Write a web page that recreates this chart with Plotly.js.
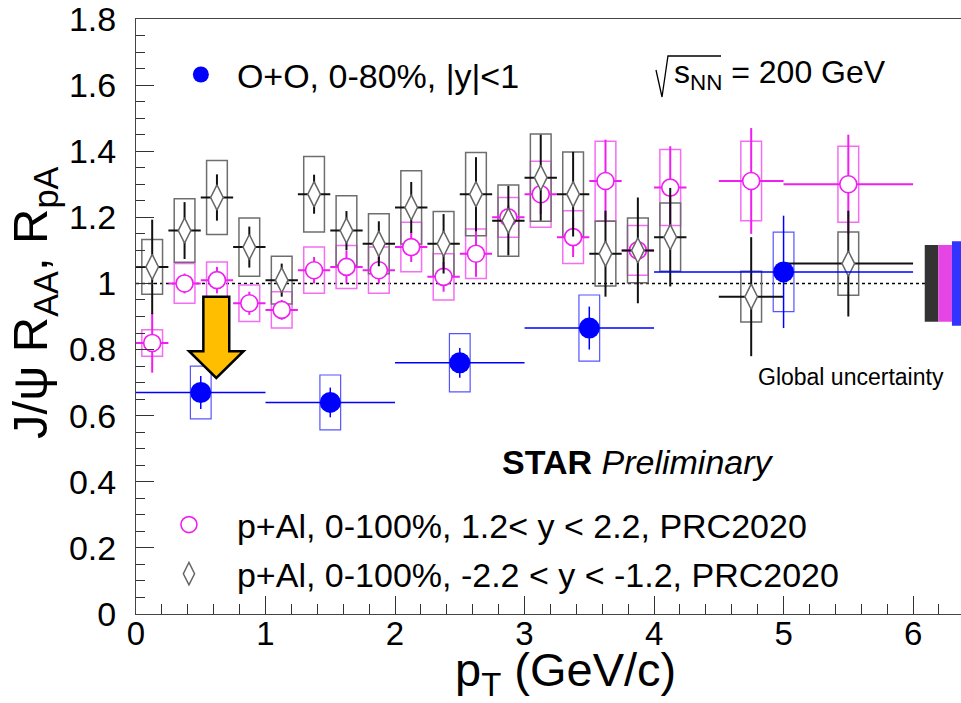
<!DOCTYPE html>
<html>
<head>
<meta charset="utf-8">
<script src="https://cdn.plot.ly/plotly-3.0.1.min.js"></script>
<style>
  html, body { margin: 0; padding: 0; background: #fff; }
  #chart { width: 961px; height: 703px; }
</style>
</head>
<body>
<div id="chart"></div>
<script>
// J/psi nuclear modification factor vs pT

// p+Al bins (PRC 2020)
const pAlX    = [0.125, 0.375, 0.625, 0.875, 1.125, 1.375, 1.625, 1.875, 2.125, 2.375,
                 2.625, 2.875, 3.125, 3.375, 3.625, 3.875, 4.125, 4.75, 5.5];
const pAlXErr = [0.125, 0.125, 0.125, 0.125, 0.125, 0.125, 0.125, 0.125, 0.125, 0.125,
                 0.125, 0.125, 0.125, 0.125, 0.125, 0.125, 0.125, 0.25, 0.5];

// p+Al, forward rapidity 1.2 < y < 2.2
const fwdR    = [0.82, 1.00, 1.01, 0.94, 0.92, 1.04, 1.05, 1.04, 1.11, 1.02,
                 1.09, 1.20, 1.27, 1.14, 1.31, 1.10, 1.29, 1.31, 1.30];
const fwdStat = [0.09, 0.03, 0.04, 0.035, 0.03, 0.04, 0.05, 0.04, 0.045, 0.045,
                 0.07, 0.035, 0.06, 0.06, 0.125, 0.03, 0.125, 0.16, 0.15];
const fwdSys  = [0.04, 0.06, 0.055, 0.055, 0.055, 0.07, 0.065, 0.07, 0.075, 0.07,
                 0.075, 0.06, 0.10, 0.08, 0.12, 0.075, 0.115, 0.12, 0.115];

// p+Al, backward rapidity -2.2 < y < -1.2
const bwdR    = [1.05, 1.16, 1.26, 1.11, 1.01, 1.27, 1.16, 1.12, 1.23, 1.12,
                 1.27, 1.19, 1.32, 1.27, 1.09, 1.10, 1.14, 0.96, 1.06];
const bwdStat = [0.143, 0.086, 0.07, 0.062, 0.05, 0.059, 0.059, 0.068, 0.077, 0.09,
                 0.112, 0.105, 0.13, 0.128, 0.13, 0.16, 0.149, 0.18, 0.16];
const bwdSys  = [0.083, 0.096, 0.112, 0.088, 0.072, 0.114, 0.105, 0.091, 0.111, 0.098,
                 0.126, 0.108, 0.132, 0.128, 0.098, 0.098, 0.103, 0.077, 0.096];

// O+O, 0-80%, |y| < 1
const ooX     = [0.5, 1.5, 2.5, 3.5, 5.0];
const ooXErr  = [0.5, 0.5, 0.5, 0.5, 1.0];
const ooR     = [0.67, 0.64, 0.76, 0.865, 1.035];
const ooStat  = [0.05, 0.045, 0.045, 0.065, 0.17];
const ooSys   = [0.08, 0.083, 0.088, 0.10, 0.12];

// global (normalisation) uncertainties: p+Al bwd, p+Al fwd, O+O
const globalUnc = [0.116, 0.116, 0.128];

// axis ticks and texts
const yTickVals = [0, 0.2, 0.4, 0.6, 0.8, 1.0, 1.2, 1.4, 1.6, 1.8];
const yTickText = ['0', '0.2', '0.4', '0.6', '0.8', '1', '1.2', '1.4', '1.6', '1.8'];
const xTickVals = [0, 1, 2, 3, 4, 5, 6];
const xTitle = 'p<sub>T</sub> (GeV/c)';
const yTitle = 'J/ψ R<sub>AA</sub>, R<sub>pA</sub>';

// legend / label texts
const labelOO  = 'O+O, 0-80%, |y|<1';
const labelFwd = 'p+Al, 0-100%, 1.2< y < 2.2, PRC2020';
const labelBwd = 'p+Al, 0-100%, -2.2 < y < -1.2, PRC2020';

const FONT = 'Liberation Sans, Arial, Helvetica, sans-serif';
const MAGENTA = '#f01ef0';
const BLUE = '#0000ff';

// systematic-uncertainty boxes
const boxHalfWidth = 0.08;
function sysBoxes(xs, ys, errs, color, width) {
  return xs.map((x, i) => ({
    type: 'rect', xref: 'x', yref: 'y', layer: 'below',
    x0: x - boxHalfWidth, x1: x + boxHalfWidth,
    y0: ys[i] - errs[i], y1: ys[i] + errs[i],
    line: { color: color, width: width },
    fillcolor: 'rgba(0,0,0,0)'
  }));
}

// global uncertainty bars drawn at the right edge
const globalCols = [
  { x0: 6.09, x1: 6.195, color: '#333333' },
  { x0: 6.195, x1: 6.30, color: '#e645e6' },
  { x0: 6.30, x1: 6.40, color: '#3333ff' }
];
const globalShapes = globalCols.map((c, i) => ({
  type: 'rect', xref: 'x', yref: 'y', layer: 'below',
  x0: c.x0, x1: c.x1, y0: 1 - globalUnc[i], y1: 1 + globalUnc[i],
  line: { width: 0 }, fillcolor: c.color
}));

// downward arrow pointing at the lowest O+O bin
const arrow = { xc: 0.62, top: 0.96, neck: 0.795, tip: 0.714, shaft: 0.1, head: 0.21 };
const arrowPath = 'M' + (arrow.xc - arrow.shaft) + ',' + arrow.top +
  ' L' + (arrow.xc + arrow.shaft) + ',' + arrow.top +
  ' L' + (arrow.xc + arrow.shaft) + ',' + arrow.neck +
  ' L' + (arrow.xc + arrow.head) + ',' + arrow.neck +
  ' L' + arrow.xc + ',' + arrow.tip +
  ' L' + (arrow.xc - arrow.head) + ',' + arrow.neck +
  ' L' + (arrow.xc - arrow.shaft) + ',' + arrow.neck + ' Z';

// radical sign in front of s_NN (paper coordinates)
const radicalPath = 'M0.6303,0.9143 L0.6376,0.8689 L0.6448,0.9378 L0.7091,0.9378';

const shapes = []
  .concat(sysBoxes(pAlX, fwdR, fwdSys, '#f46ef4', 1.5))
  .concat(sysBoxes(pAlX, bwdR, bwdSys, '#6e6e6e', 1.5))
  .concat(sysBoxes(ooX, ooR, ooSys, '#5555ff', 1.2))
  .concat(globalShapes)
  .concat([
    { type: 'line', xref: 'paper', yref: 'y', layer: 'below',
      x0: 0, x1: 1, y0: 1, y1: 1, line: { color: '#000', width: 1.5, dash: 'dot' } },
    { type: 'path', xref: 'x', yref: 'y', path: arrowPath,
      fillcolor: '#ffbf00', line: { color: '#000', width: 2.5 } },
    { type: 'path', xref: 'paper', yref: 'paper', path: radicalPath,
      line: { color: '#000', width: 1.3 } }
  ]);

const traces = [
  {
    name: labelFwd, legend: 'legend2',
    x: pAlX, y: fwdR, type: 'scatter', mode: 'markers',
    error_x: { type: 'data', array: pAlXErr, color: MAGENTA, thickness: 2, width: 0 },
    error_y: { type: 'data', array: fwdStat, color: MAGENTA, thickness: 2, width: 0 },
    marker: { symbol: 'circle', size: 17, color: '#ffffff', line: { color: MAGENTA, width: 1.6 } }
  },
  {
    name: labelBwd, legend: 'legend3',
    x: pAlX, y: bwdR, type: 'scatter', mode: 'markers',
    error_x: { type: 'data', array: pAlXErr, color: '#111', thickness: 2, width: 0 },
    error_y: { type: 'data', array: bwdStat, color: '#111', thickness: 2, width: 0 },
    marker: { symbol: 'diamond-tall', size: 18, color: '#ffffff', line: { color: '#666', width: 1.5 } }
  },
  {
    name: labelOO, legend: 'legend',
    x: ooX, y: ooR, type: 'scatter', mode: 'markers',
    error_x: { type: 'data', array: ooXErr, color: BLUE, thickness: 1.5, width: 0 },
    error_y: { type: 'data', array: ooStat, color: BLUE, thickness: 1.5, width: 0 },
    marker: { symbol: 'circle', size: 21, color: BLUE }
  }
];

const legendBase = {
  xanchor: 'left', yanchor: 'middle', bgcolor: 'rgba(0,0,0,0)', borderwidth: 0,
  font: { family: FONT, size: 34, color: '#000' }, visible: true
};

const layout = {
  width: 961, height: 703,
  margin: { l: 136, r: 0, t: 19, b: 89, pad: 0 },
  paper_bgcolor: '#fff', plot_bgcolor: '#fff',
  font: { family: FONT, color: '#000' },
  showlegend: true,
  xaxis: {
    range: [0, 6.37], tickmode: 'array', tickvals: xTickVals,
    ticks: 'inside', ticklen: 18, tickwidth: 1, tickcolor: '#333',
    minor: { tick0: 0, dtick: 0.2, ticks: 'inside', ticklen: 10, tickwidth: 1, tickcolor: '#333' },
    showline: true, linecolor: '#444', linewidth: 1, mirror: true,
    showgrid: false, zeroline: false,
    tickfont: { family: FONT, size: 33 }, ticklabelstandoff: -10
  },
  yaxis: {
    range: [0, 1.8], tickmode: 'array', tickvals: yTickVals, ticktext: yTickText,
    ticks: 'inside', ticklen: 18, tickwidth: 1, tickcolor: '#333',
    minor: { tick0: 0, dtick: 0.05, ticks: 'inside', ticklen: 9, tickwidth: 1, tickcolor: '#333' },
    showline: true, linecolor: '#444', linewidth: 1,
    showgrid: false, zeroline: false, ticklabeloverflow: 'allow',
    tickfont: { family: FONT, size: 34 }, ticklabelstandoff: 12
  },
  legend:  Object.assign({}, legendBase, { x: 0.035, y: 0.906, itemwidth: 62 }),
  legend2: Object.assign({}, legendBase, { x: 0.006, y: 0.1496, itemwidth: 86 }),
  legend3: Object.assign({}, legendBase, { x: 0.006, y: 0.067, itemwidth: 86 }),
  shapes: shapes,
  annotations: [
    // axis titles
    { xref: 'paper', yref: 'paper', x: 0.5206, y: -0.0995, xanchor: 'center', yanchor: 'middle',
      showarrow: false, text: xTitle, font: { family: FONT, size: 47 } },
    { xref: 'paper', yref: 'paper', x: -0.124, y: 0.524, xanchor: 'center', yanchor: 'middle',
      textangle: -90, showarrow: false, text: yTitle, font: { family: FONT, size: 49 } },
    { xref: 'paper', yref: 'paper', x: 0.6497, y: 0.906, xanchor: 'left', yanchor: 'middle',
      showarrow: false, text: 's<sub>NN</sub> = 200 GeV', font: { family: FONT, size: 32 } },
    { xref: 'paper', yref: 'paper', x: 0.6085, y: 0.2555, xanchor: 'center', yanchor: 'middle',
      showarrow: false, text: '<b>STAR</b> <i>Preliminary</i>', font: { family: FONT, size: 34 } },
    { xref: 'paper', yref: 'paper', x: 0.7515, y: 0.398, xanchor: 'left', yanchor: 'middle',
      showarrow: false, text: 'Global uncertainty', font: { family: FONT, size: 23 } }
  ]
};

Plotly.newPlot('chart', traces, layout, { displayModeBar: false, staticPlot: true });
</script>
</body>
</html>
